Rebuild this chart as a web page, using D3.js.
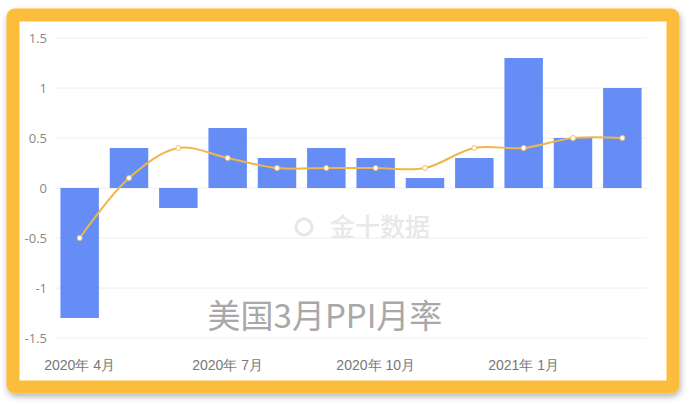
<!DOCTYPE html>
<html><head><meta charset="utf-8">
<script src="https://cdn.jsdelivr.net/npm/d3@7"></script>
<style>body{margin:0;background:#fff;}svg{display:block;font-family:"Noto Sans CJK SC","Noto Sans",sans-serif;}</style>
</head><body>
<svg id="c" width="689" height="405"></svg>
<script>
const months = ["2020-04","2020-05","2020-06","2020-07","2020-08","2020-09","2020-10","2020-11","2020-12","2021-01","2021-02","2021-03"];
const barValues = [-1.3,0.4,-0.2,0.6,0.3,0.4,0.3,0.1,0.3,1.3,0.5,1.0];
const lineValues = [-0.5,0.1,0.4,0.3,0.2,0.2,0.2,0.2,0.4,0.4,0.5,0.5];
const yTicks = [-1.5,-1,-0.5,0,0.5,1,1.5];
const xTickLabels = {"2020-04":"2020年 4月","2020-07":"2020年 7月","2020-10":"2020年 10月","2021-01":"2021年 1月"};
const title = "美国3月PPI月率";
const watermark = "金十数据";

const svg = d3.select("#c");
const defs = svg.append("defs");
const f = defs.append("filter").attr("id","sh").attr("x","-5%").attr("y","-5%").attr("width","110%").attr("height","115%");
f.append("feDropShadow").attr("dx",1).attr("dy",3).attr("stdDeviation",3).attr("flood-color","#000").attr("flood-opacity",0.3);

// frame
svg.append("rect").attr("x",13).attr("y",15).attr("width",660).attr("height",372)
  .attr("fill","#fff").attr("stroke","#fbbd3a").attr("stroke-width",13).attr("rx",2).attr("filter","url(#sh)");

const x = d3.scaleBand().domain(months).range([55,647]).paddingInner(0.22).paddingOuter(0.11);
const y = d3.scaleLinear().domain([-1.5,1.5]).range([338,38]);

// grid
svg.append("g").selectAll("line").data(yTicks).join("line")
  .attr("x1",55).attr("x2",647).attr("y1",d=>y(d)).attr("y2",d=>y(d))
  .attr("stroke","#eeeeee").attr("stroke-width",1);

// y axis
const ya = svg.append("g").attr("transform","translate(47,0)")
  .call(d3.axisLeft(y).tickValues(yTicks).tickSize(0).tickPadding(0).tickFormat(d=>String(d)));
ya.select(".domain").remove();
ya.selectAll("text").attr("fill","#888").attr("font-size",13).attr("font-family","Open Sans, sans-serif");

// watermark
const wm = svg.append("g");
wm.append("circle").attr("cx",304).attr("cy",227).attr("r",8).attr("fill","none").attr("stroke","#e6e6e6").attr("stroke-width",3);
wm.append("text").attr("x",330).attr("y",236).text(watermark).attr("fill","#e8e8e8").attr("font-size",25).attr("font-weight",500);

// bars
svg.append("g").selectAll("rect").data(barValues).join("rect")
  .attr("x",(d,i)=>x(months[i])).attr("width",x.bandwidth())
  .attr("y",d=>y(Math.max(0,d))).attr("height",d=>Math.abs(y(d)-y(0)))
  .attr("fill","#668df5");

// line
const line = d3.line().x((d,i)=>x(months[i])+x.bandwidth()/2).y(d=>y(d)).curve(d3.curveCatmullRom.alpha(0.5));
svg.append("path").datum(lineValues).attr("d",line).attr("fill","none").attr("stroke","#f0b648").attr("stroke-width",2);
svg.append("g").selectAll("circle").data(lineValues).join("circle")
  .attr("cx",(d,i)=>x(months[i])+x.bandwidth()/2).attr("cy",d=>y(d)).attr("r",2.5)
  .attr("fill","#fff").attr("stroke","#f0c070").attr("stroke-width",1);

// x axis labels
const xa = svg.append("g").attr("transform","translate(0,360)")
  .call(d3.axisBottom(x).tickValues(Object.keys(xTickLabels)).tickSize(0).tickPadding(0).tickFormat(d=>xTickLabels[d]));
xa.select(".domain").remove();
xa.selectAll("text").attr("fill","#777").attr("font-size",14).attr("dy","0.71em");

// title
svg.append("text").attr("x",325).attr("y",328).attr("text-anchor","middle").text(title)
  .attr("fill","#a8a8a8").attr("font-size",33);
</script>
</body></html>
